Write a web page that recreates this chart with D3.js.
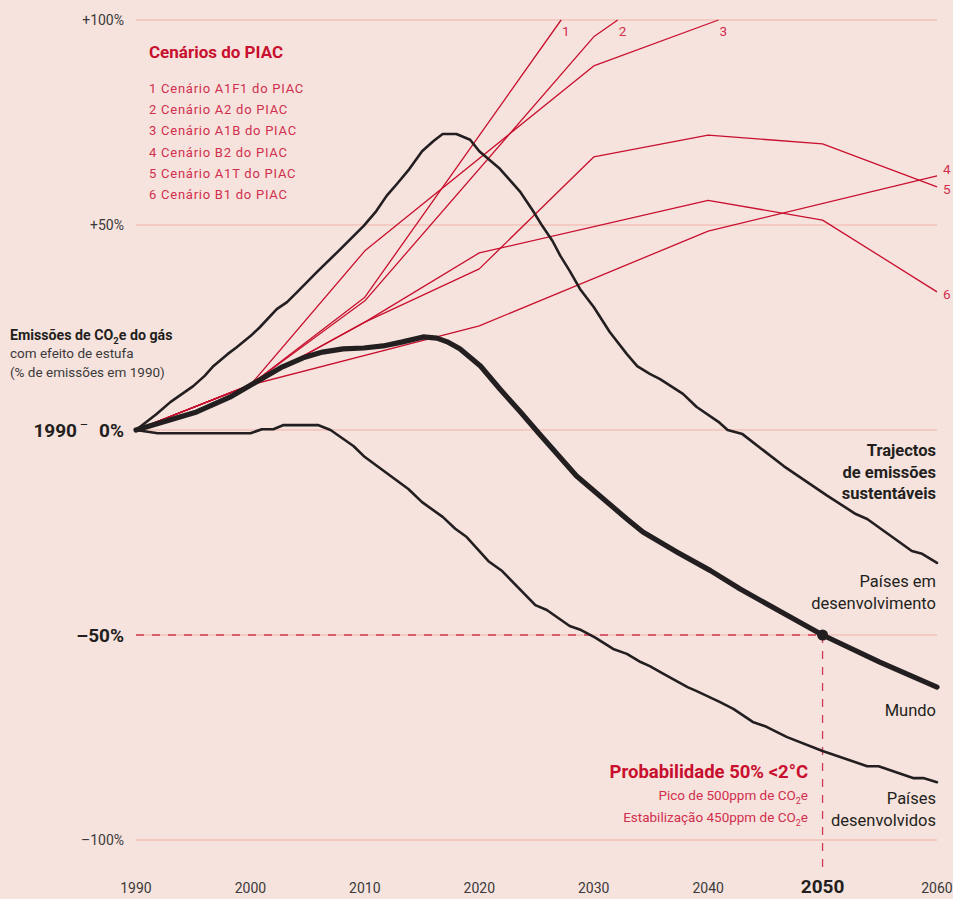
<!DOCTYPE html>
<html>
<head>
<meta charset="utf-8">
<script src="https://cdn.jsdelivr.net/npm/d3@7"></script>
<style>
  body { margin: 0; background: #f7e3de; }
  svg { display: block; font-family: "Roboto", "Liberation Sans", sans-serif; }
</style>
</head>
<body>
<div id="mainChart"></div>
<script>
const width = 953;
const height = 899;

// axis values
const xTicks = [1990, 2000, 2010, 2020, 2030, 2040, 2050, 2060];
const gridValues = [100, 50, 0, -50, -100];
const yTickLabels = [[100, "+100%"], [50, "+50%"], [-100, "\u2013100%"]];

// IPCC scenarios (year, % of 1990 emissions)
const scenarioNames = ["Cenário A1F1 do PIAC", "Cenário A2 do PIAC", "Cenário A1B do PIAC",
    "Cenário B2 do PIAC", "Cenário A1T do PIAC", "Cenário B1 do PIAC"];
const scenario1 = [[1990, 0], [2000, 11], [2010, 32.4], [2027.15, 100]];
const scenario2 = [[1990, 0], [2000, 11], [2010, 31.5], [2030, 95.9], [2032.1, 100]];
const scenario3 = [[1990, 0], [2000, 11], [2010, 43.7], [2030, 88.8], [2040.9, 100]];
const scenario4 = [[1990, 0], [2000, 11], [2020, 25.4], [2040, 48.5], [2060, 62]];
const scenario5 = [[1990, 0], [2000, 11], [2010, 26.3], [2020, 39.3], [2030, 66.6], [2040, 71.9], [2050, 69.8], [2060, 59.3]];
const scenario6 = [[1990, 0], [2000, 11], [2010, 26.3], [2020, 43.2], [2040, 56], [2050, 51.2], [2060, 33.7]];
const scenarioLabels = ["1", "2", "3", "4", "5", "6"];

// sustainable emission pathways
const developing = [[1990, 0], [1991.8, 3.9], [1993, 6.8], [1995, 10.7], [1996, 13.2], [1996.7, 15.4],
    [1998, 18.5], [1998.8, 20.2], [2000, 22.9], [2000.8, 25], [2002.3, 29.5], [2003.2, 31.2],
    [2004.1, 33.7], [2005.8, 38.5], [2007.6, 43.4], [2009.9, 49.8], [2011, 53.4], [2011.9, 57.1],
    [2012.8, 60], [2013.9, 63.7], [2015, 68], [2016, 70.5], [2016.8, 72.2], [2018, 72.2],
    [2019.2, 70.8], [2020, 68], [2021.8, 63.7], [2023.6, 58], [2024.7, 53.4], [2025.5, 49.8],
    [2026.4, 46.1], [2027.1, 42.4], [2027.9, 38.8], [2028.8, 34.4], [2030, 30], [2031.4, 23.9],
    [2032.9, 18.5], [2033.8, 15.6], [2034.9, 13.7], [2035.8, 12.4], [2037.8, 8.8], [2039, 5.6],
    [2040.9, 2], [2041.7, 0], [2043, -1], [2046.6, -8.8], [2050.4, -16], [2052.9, -20.5],
    [2053.9, -21.7], [2057.8, -29.5], [2058.7, -30.2], [2060, -32.4]];
const world = [[1990, 0], [1995.3, 4.4], [1998.2, 8], [2000, 10.9], [2002.8, 15.4], [2004.6, 17.6],
    [2006.3, 19], [2008.1, 19.8], [2009.9, 20], [2011.6, 20.5], [2013.3, 21.5], [2015.1, 22.7],
    [2016.3, 22.4], [2017.2, 21.5], [2018.3, 19.8], [2020.1, 15.6], [2021.8, 10], [2023.6, 4.4],
    [2025.2, -0.8], [2028.5, -11.2], [2032.9, -21.7], [2034.3, -24.9], [2037.3, -29.8],
    [2040.2, -34.3], [2042.8, -38.8], [2050, -50], [2055, -56.6], [2060, -62.7]];
const developed = [[1990, 0], [1991.9, -0.8], [2000, -0.8], [2001, 0.2], [2002, 0.2], [2002.9, 1.2],
    [2005.9, 1.2], [2007, 0], [2009, -3.9], [2010, -6.6], [2013.8, -14.4], [2015, -17.6],
    [2016.8, -21.2], [2017.9, -24.1], [2018.9, -26.1], [2020.8, -32], [2022, -34.4], [2024.9, -42.7],
    [2025.9, -43.9], [2027.9, -47.8], [2028.9, -48.8], [2030.1, -50.6], [2031.7, -53.4],
    [2032.9, -54.6], [2034.1, -56.6], [2034.9, -57.6], [2036.1, -59.5], [2038.2, -62.7],
    [2039, -63.7], [2041, -66.3], [2042.2, -68], [2043.9, -71.2], [2045.1, -72.4], [2046.9, -74.9],
    [2050, -78.3], [2053.9, -82], [2054.9, -82], [2057.9, -84.9], [2058.8, -84.9], [2060, -85.9]];
const target = [2050, -50];

const red = "#c8102e";
const pinkRed = "#d02f4d";
const ink = "#231f20";
const grey = "#3a3a3a";

const xScale = d3.scaleLinear().domain([1990, 2060]).range([136, 937]);
const yScale = d3.scaleLinear().domain([-100, 100]).range([840, 20]);

const svg = d3.create("svg")
    .attr("width", width)
    .attr("height", height)
    .style("background", "#f7e3de");

// grid lines
svg.append("g")
    .selectAll("line")
    .data(gridValues)
    .join("line")
    .attr("x1", xScale(1990))
    .attr("x2", xScale(2060))
    .attr("y1", d => yScale(d))
    .attr("y2", d => yScale(d))
    .attr("stroke", "#f1b2a6")
    .attr("stroke-width", 1);

// -50% guide and 2050 guide
svg.append("line")
    .attr("x1", xScale(1990)).attr("x2", xScale(target[0]))
    .attr("y1", yScale(target[1])).attr("y2", yScale(target[1]))
    .attr("stroke", "#d23a56").attr("stroke-width", 1.3)
    .attr("stroke-dasharray", "8,8");
svg.append("line")
    .attr("x1", xScale(target[0])).attr("x2", xScale(target[0]))
    .attr("y1", yScale(target[1])).attr("y2", 870)
    .attr("stroke", "#d23a56").attr("stroke-width", 1.3)
    .attr("stroke-dasharray", "8,8");

// y tick labels
svg.append("g")
    .selectAll("text")
    .data(yTickLabels)
    .join("text")
    .attr("x", 124)
    .attr("y", d => yScale(d[0]))
    .attr("dy", "0.35em")
    .attr("text-anchor", "end")
    .attr("font-size", 14)
    .attr("fill", grey)
    .text(d => d[1]);

svg.append("text")
    .attr("x", 124).attr("y", yScale(-50)).attr("dy", "0.35em")
    .attr("text-anchor", "end")
    .attr("font-size", 19).attr("font-weight", "bold").attr("fill", ink)
    .text("\u201350%");

svg.append("text")
    .attr("x", 124).attr("y", yScale(0)).attr("dy", "0.35em")
    .attr("text-anchor", "end")
    .attr("font-size", 19).attr("font-weight", "bold").attr("fill", ink)
    .text("0%");
svg.append("text")
    .attr("x", 84).attr("y", yScale(0) - 1)
    .attr("text-anchor", "middle")
    .attr("font-size", 13).attr("fill", ink)
    .text("\u2013");
svg.append("text")
    .attr("x", 77).attr("y", yScale(0)).attr("dy", "0.35em")
    .attr("text-anchor", "end")
    .attr("font-size", 19).attr("font-weight", "bold").attr("fill", ink)
    .text("1990");

// x tick labels
svg.append("g")
    .selectAll("text")
    .data(xTicks)
    .join("text")
    .attr("x", d => xScale(d))
    .attr("y", 893)
    .attr("text-anchor", "middle")
    .attr("font-size", d => d === 2050 ? 19 : 14)
    .attr("font-weight", d => d === 2050 ? "bold" : "normal")
    .attr("fill", d => d === 2050 ? ink : grey)
    .text(d => d);

// y title
const yTitle = svg.append("g").attr("font-size", 13.5).attr("fill", grey);
const t1 = yTitle.append("text").attr("x", 10).attr("y", 340).attr("font-size", 14.2)
    .attr("font-weight", "bold").attr("fill", ink);
t1.append("tspan").text("Emissões de CO");
t1.append("tspan").attr("font-size", 9.5).attr("dy", 4).text("2");
t1.append("tspan").attr("dy", -4).text("e do gás");
yTitle.append("text").attr("x", 10).attr("y", 358).text("com efeito de estufa");
yTitle.append("text").attr("x", 10).attr("y", 377).text("(% de emissões em 1990)");

// legend
svg.append("text")
    .attr("x", 149).attr("y", 58)
    .attr("font-size", 17).attr("font-weight", "bold").attr("fill", red)
    .text("Cenários do PIAC");
svg.append("g")
    .selectAll("text")
    .data(scenarioNames)
    .join("text")
    .attr("x", 149)
    .attr("y", (d, i) => 93 + i * 21.2)
    .attr("font-size", 13)
    .attr("letter-spacing", 0.75)
    .attr("fill", pinkRed)
    .text((d, i) => (i + 1) + " " + d);

const line = d3.line()
    .x(d => xScale(d[0]))
    .y(d => yScale(d[1]));

// scenario lines
const scenarios = [scenario1, scenario2, scenario3, scenario4, scenario5, scenario6];
svg.append("g")
    .selectAll("path")
    .data(scenarios)
    .join("path")
    .attr("d", line)
    .attr("fill", "none")
    .attr("stroke", red)
    .attr("stroke-width", 1.3)
    .attr("stroke-linejoin", "round");

// scenario end labels
const labelOffsets = [[1, 16], [1, 16], [1, 16], [6, -2], [6, 7], [6, 7]];
svg.append("g")
    .selectAll("text")
    .data(scenarios)
    .join("text")
    .attr("x", (d, i) => xScale(d[d.length - 1][0]) + labelOffsets[i][0])
    .attr("y", (d, i) => yScale(d[d.length - 1][1]) + labelOffsets[i][1])
    .attr("font-size", 13.5)
    .attr("fill", pinkRed)
    .text((d, i) => scenarioLabels[i]);

// pathway lines
[[developing, 2.6], [developed, 2.6], [world, 5.2]].forEach(([values, w]) => {
    svg.append("path")
        .datum(values)
        .attr("d", line)
        .attr("fill", "none")
        .attr("stroke", ink)
        .attr("stroke-width", w)
        .attr("stroke-linejoin", "round")
        .attr("stroke-linecap", "round");
});

svg.append("circle")
    .attr("cx", xScale(target[0]))
    .attr("cy", yScale(target[1]))
    .attr("r", 5.5)
    .attr("fill", ink);

// right-hand labels
const rightLabels = [
    { lines: ["Trajectos", "de emissões", "sustentáveis"], y: 456, bold: true },
    { lines: ["Países em", "desenvolvimento"], y: 587, bold: false },
    { lines: ["Mundo"], y: 716, bold: false },
    { lines: ["Países", "desenvolvidos"], y: 804, bold: false }
];
rightLabels.forEach(lab => {
    svg.append("g")
        .selectAll("text")
        .data(lab.lines)
        .join("text")
        .attr("x", 936)
        .attr("y", (d, i) => lab.y + i * 21.5)
        .attr("text-anchor", "end")
        .attr("font-size", 16.5)
        .attr("font-weight", lab.bold ? "bold" : "normal")
        .attr("fill", ink)
        .text(d => d);
});

// probability annotation
svg.append("text")
    .attr("x", 808).attr("y", 778)
    .attr("text-anchor", "end")
    .attr("font-size", 18.5).attr("font-weight", "bold").attr("fill", red)
    .text("Probabilidade 50% <2°C");

const notes = ["Pico de 500ppm de CO", "Estabilização 450ppm de CO"];
notes.forEach((n, i) => {
    const t = svg.append("text")
        .attr("x", 808).attr("y", 800 + i * 22)
        .attr("text-anchor", "end")
        .attr("font-size", 13.5).attr("fill", pinkRed);
    t.append("tspan").text(n);
    t.append("tspan").attr("font-size", 9).attr("dy", 4).text("2");
    t.append("tspan").attr("dy", -4).text("e");
});

mainChart.append(svg.node());
</script>
</body>
</html>
